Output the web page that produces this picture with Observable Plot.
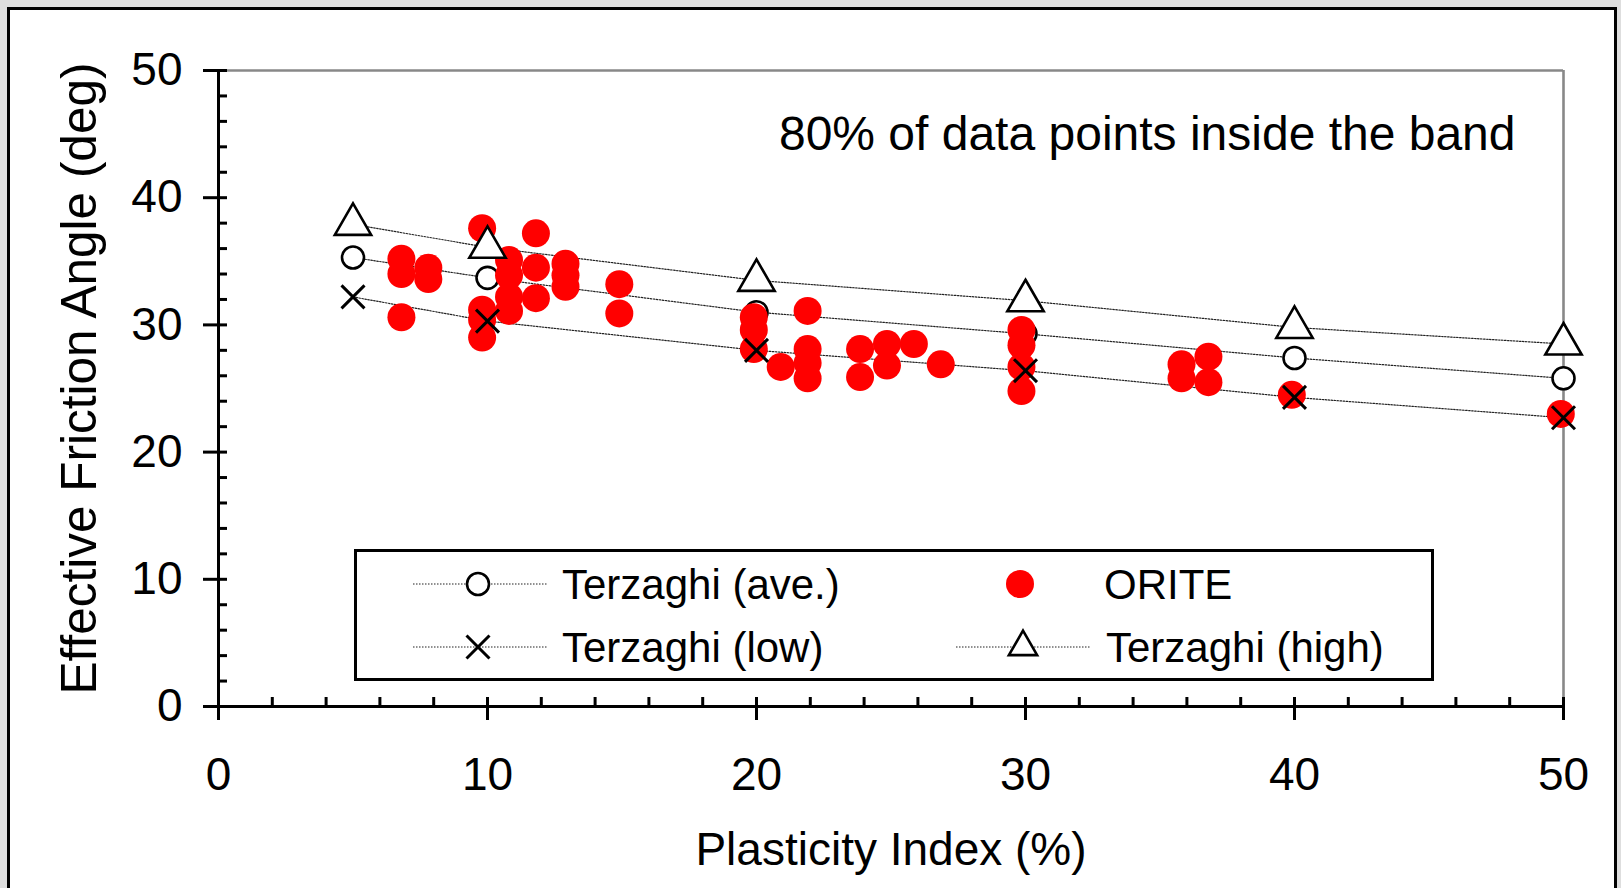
<!DOCTYPE html>
<html><head><meta charset="utf-8">
<script src="https://cdn.jsdelivr.net/npm/d3@7"></script>
<script src="https://cdn.jsdelivr.net/npm/@observablehq/plot@0.6"></script>
<style>
html,body{margin:0;padding:0;background:#dedede;width:1621px;height:888px;overflow:hidden;font-family:"Liberation Sans",Arial,sans-serif;}
#frame{position:absolute;left:7px;top:7px;width:1610px;height:900px;background:#fff;border:3px solid #000;box-sizing:border-box;}
#chart{position:absolute;left:0;top:0;}
#legend{position:absolute;left:354px;top:549px;width:1080px;height:132px;border:3px solid #000;background:#fff;box-sizing:border-box;}
#legend svg{display:block;}
</style></head><body>
<div id="frame"></div><div id="chart"></div><div id="legend"></div>
<script>
// ---- data ----
const terzX = [5, 10, 20, 30, 40, 50];
const terzAve = [35.3, 33.7, 31.0, 29.3, 27.4, 25.8];
const terzLow = [32.2, 30.3, 28.0, 26.4, 24.3, 22.7];
const terzHigh = [37.9, 36.1, 33.5, 31.9, 29.8, 28.5];
const oriteX = [6.8,6.8,6.8, 7.8,7.8, 9.8,9.8,9.8,9.8, 10.8,10.8,10.8,10.8, 11.8,11.8,11.8, 12.9,12.9,12.9, 14.9,14.9, 19.9,19.9,19.9, 20.9, 21.9,21.9,21.9,21.9, 23.85,23.85, 24.85,24.85, 25.85, 26.85, 29.85,29.85,29.85,29.85, 35.8,35.8, 36.8,36.8, 39.9, 49.9];
const oriteY = [35.2,34.0,30.6, 34.5,33.6, 37.6,31.2,30.4,29.0, 35.1,33.9,32.2,31.1, 37.2,34.5,32.1, 34.8,33.9,33.0, 33.2,30.9, 30.6,29.6,28.1, 26.7, 31.1,28.1,27.0,25.8, 28.1,25.9, 28.5,26.8, 28.5, 26.9, 29.6,28.4,26.7,24.8, 26.9,25.8, 27.5,25.5, 24.5, 23.0];
const seriesNames = ["Terzaghi (ave.)", "ORITE", "Terzaghi (low)", "Terzaghi (high)"];
const xMajor = [0, 10, 20, 30, 40, 50];
const yMajor = [0, 10, 20, 30, 40, 50];
const xMinor = d3.range(0, 51, 2);
const yMinor = d3.range(0, 51, 2);
const xTitle = "Plasticity Index (%)";
const yTitle = "Effective Friction Angle (deg)";
const note = "80% of data points inside the band";

// ---- tables ----
const mk = (vals, name) => terzX.map((x, i) => ({x, v: vals[i], series: name}));
const ave = mk(terzAve, seriesNames[0]);
const low = mk(terzLow, seriesNames[2]);
const high = mk(terzHigh, seriesNames[3]);
const orite = oriteX.map((x, i) => ({x, v: oriteY[i]}));
const terzAll = [...ave, ...low, ...high];

// ---- layout ----
const W = 1621, H = 888, mL = 218, mR = 58, mT = 70, mB = 182;
const pw = W - mL - mR, ph = H - mT - mB;
const tin = 9, outY = 15, outX = 14;
const font = '"Liberation Sans", Arial, sans-serif';
const lineStyle = {stroke: "#222", strokeWidth: 1.2, strokeDasharray: "1.5,1.5"};
const circ = {r: 11, symbol: "circle", stroke: "#000", strokeWidth: 2.6, fill: "#fff"};
const red = {r: 14, fill: "#ff0000"};
const times = {r: 10.5, symbol: "times", stroke: "#000", strokeWidth: 3};
const tri = {r: 13.5, symbol: "triangle", stroke: "#000", strokeWidth: 2.6, fill: "#fff"};

const chart = Plot.plot({
  width: W, height: H,
  marginLeft: mL, marginRight: mR, marginTop: mT, marginBottom: mB,
  style: {background: "transparent", fontFamily: font, fontSize: "46px", color: "#000"},
  x: {domain: [0, 50]},
  y: {domain: [0, 50]},
  marks: [
    Plot.ruleY([50], {stroke: "#888", strokeWidth: 2.6}),
    Plot.ruleX([50], {stroke: "#888", strokeWidth: 2.6}),
    Plot.line(terzAll, {x: "x", y: "v", z: "series", ...lineStyle}),
    Plot.dot(ave, {x: "x", y: "v", ...circ}),
    Plot.dot(orite, {x: "x", y: "v", ...red}),
    Plot.dot(low, {x: "x", y: "v", ...times}),
    Plot.dot(high, {x: "x", y: "v", ...tri}),
    Plot.ruleX([0], {stroke: "#000", strokeWidth: 3}),
    Plot.ruleY([0], {stroke: "#000", strokeWidth: 3}),
    Plot.tickY(yMinor, {y: d => d, insetRight: pw - tin, stroke: "#000", strokeWidth: 3}),
    Plot.tickY(yMajor, {y: d => d, insetLeft: -outY, insetRight: pw, stroke: "#000", strokeWidth: 3}),
    Plot.tickX(xMinor, {x: d => d, insetTop: ph - tin, stroke: "#000", strokeWidth: 3}),
    Plot.tickX(xMajor, {x: d => d, insetTop: ph, insetBottom: -outX, stroke: "#000", strokeWidth: 3}),
    Plot.axisY({ticks: yMajor, tickSize: 0, tickPadding: 36, label: null, fontSize: 46}),
    Plot.axisX({ticks: xMajor, tickSize: 0, tickPadding: 51, label: null, fontSize: 46}),
    Plot.text([xTitle], {text: d => d, frameAnchor: "bottom", dy: 144, lineAnchor: "middle", fontSize: 46}),
    Plot.text([yTitle], {text: d => d, frameAnchor: "left", dx: -138, dy: -10, rotate: -90, lineAnchor: "middle", textAnchor: "middle", fontSize: 49.5}),
    Plot.text([note], {text: d => d, frameAnchor: "top-right", textAnchor: "end", lineAnchor: "top", dx: -48, dy: 45, fontSize: 48})
  ]
});
document.getElementById("chart").appendChild(chart);

// ---- legend ----
const sym = (type, r) => d3.symbol(type, Math.PI * r * r)();
const lg = d3.select("#legend").append("svg").attr("width", 1074).attr("height", 126)
  .style("font-family", font).style("font-size", "42px");
const entries = [
  {name: seriesNames[0], row: 32, lx: [56, 191], mx: 121, tx: 205, kind: "circle"},
  {name: seriesNames[1], row: 32, lx: null, mx: 663, tx: 747, kind: "red"},
  {name: seriesNames[2], row: 95, lx: [56, 191], mx: 121, tx: 205, kind: "times"},
  {name: seriesNames[3], row: 95, lx: [599, 734], mx: 666, tx: 749, kind: "triangle"}
];
for (const e of entries) {
  if (e.lx) lg.append("line").attr("x1", e.lx[0]).attr("x2", e.lx[1]).attr("y1", e.row).attr("y2", e.row)
    .attr("stroke", lineStyle.stroke).attr("stroke-width", lineStyle.strokeWidth).attr("stroke-dasharray", lineStyle.strokeDasharray);
  const g = lg.append("g").attr("transform", `translate(${e.mx},${e.row})`);
  if (e.kind === "circle") g.append("circle").attr("r", circ.r).attr("fill", "#fff").attr("stroke", "#000").attr("stroke-width", circ.strokeWidth);
  if (e.kind === "red") g.append("circle").attr("r", red.r).attr("fill", red.fill);
  if (e.kind === "times") g.append("path").attr("d", sym(d3.symbolTimes, times.r)).attr("fill", "none").attr("stroke", "#000").attr("stroke-width", times.strokeWidth);
  if (e.kind === "triangle") g.append("path").attr("d", sym(d3.symbolTriangle2, tri.r)).attr("fill", "#fff").attr("stroke", "#000").attr("stroke-width", tri.strokeWidth);
  lg.append("text").attr("x", e.tx).attr("y", e.row).attr("dy", "0.35em").text(e.name);
}
</script>
</body></html>
